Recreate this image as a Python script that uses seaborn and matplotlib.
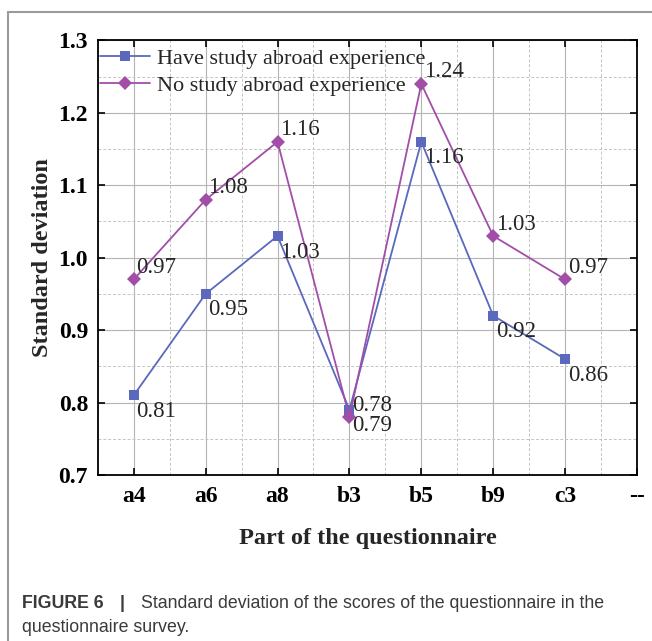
import numpy as np
import pandas as pd
import seaborn as sns
import matplotlib
matplotlib.use("Agg")
import matplotlib.pyplot as plt
from matplotlib.lines import Line2D
from matplotlib.ticker import MultipleLocator, FixedLocator

categories = ["a4", "a6", "a8", "b3", "b5", "b9", "c3"]
tick_labels = ["a4", "a6", "a8", "b3", "b5", "b9", "c3", "--"]
have_abroad = [0.81, 0.95, 1.03, 0.79, 1.16, 0.92, 0.86]
no_abroad = [0.97, 1.08, 1.16, 0.78, 1.24, 1.03, 0.97]
series_names = ["Have study abroad experience", "No study abroad experience"]

sns.set_style("white")
plt.rcParams["font.family"] = ["Liberation Serif", "DejaVu Serif"]

pos = list(range(len(categories)))
df = pd.DataFrame({
    "pos": pos * 2,
    "value": have_abroad + no_abroad,
    "series": [series_names[0]] * len(pos) + [series_names[1]] * len(pos),
})

colors = {series_names[0]: "#5a68bd", series_names[1]: "#a24ea8"}

fig = plt.figure(figsize=(6.52, 6.41), dpi=100)
ax = fig.add_axes([0.150, 0.259, 0.827, 0.678])

sns.lineplot(data=df, x="pos", y="value", hue="series", style="series",
             markers={series_names[0]: "s", series_names[1]: "D"}, dashes=False,
             palette=colors, markersize=7, linewidth=1.3, markeredgewidth=0,
             ax=ax, legend=True)

ax.set_xlim(-0.5, 7)
ax.set_ylim(0.7, 1.3)
ax.xaxis.set_major_locator(FixedLocator(range(len(tick_labels))))
ax.set_xticklabels(tick_labels)
ax.xaxis.set_minor_locator(FixedLocator([i + 0.5 for i in range(-1, 7)]))
ax.yaxis.set_major_locator(MultipleLocator(0.1))
ax.yaxis.set_minor_locator(MultipleLocator(0.05))
ax.yaxis.set_major_formatter(matplotlib.ticker.FormatStrFormatter("%.1f"))

ax.grid(True, which="major", color="#b4b4b4", linestyle="-", linewidth=0.8)
ax.grid(True, which="minor", color="#c4c4c4", linestyle=(0, (3, 2)), linewidth=0.7)
ax.set_axisbelow(True)

ax.tick_params(which="major", direction="in", length=5, width=1.2,
               top=True, right=True, bottom=True, left=True,
               labelsize=17, colors="black")
ax.tick_params(axis="x", which="major", pad=8)
ax.tick_params(axis="y", which="major", pad=7)
ax.tick_params(which="minor", length=0)
for lab in ax.get_xticklabels() + ax.get_yticklabels():
    lab.set_fontweight("bold")
for sp in ax.spines.values():
    sp.set_color("black")
    sp.set_linewidth(1.3)

ax.set_xlabel("Part of the questionnaire", fontsize=17.5, fontweight="bold", labelpad=15)
ax.set_ylabel("Standard deviation", fontsize=17.5, fontweight="bold", labelpad=4)

# data labels
for x, v in zip(pos, have_abroad):
    ax.annotate(f"{v:.2f}", (x, v), xytext=(2, -4), textcoords="offset points",
                ha="left", va="top", fontsize=16.5)
for x, v in zip(pos, no_abroad):
    ax.annotate(f"{v:.2f}", (x, v), xytext=(2, 1), textcoords="offset points",
                ha="left", va="bottom", fontsize=16.5)

leg = ax.legend(loc="upper left", frameon=False, fontsize=16, handlelength=2.25,
                handletextpad=0.3, borderaxespad=0.0, borderpad=0.1,
                labelspacing=0.27, bbox_to_anchor=(0.0, 1.0 - 6 / 435))

# figure frame lines
fig.add_artist(Line2D([8 / 652, 1.0], [1 - 12 / 641, 1 - 12 / 641], color="#9a9a9a", linewidth=1.5))
fig.add_artist(Line2D([8 / 652, 8 / 652], [0.0, 1 - 12 / 641], color="#9a9a9a", linewidth=1.5))

# caption
cap_font = ["Liberation Sans", "DejaVu Sans"]
cap_size = 12.8
cap_color = "#3a3a3a"
y1 = 1 - 603 / 641
fig.text(22 / 652, y1, "FIGURE 6", fontsize=cap_size, fontweight="bold",
         family=cap_font, color=cap_color, va="center", ha="left")
fig.text(122 / 652, y1, "|", fontsize=cap_size, fontweight="bold",
         family=cap_font, color=cap_color, va="center", ha="center")
fig.text(141 / 652, y1,
         "Standard deviation of the scores of the questionnaire in the",
         fontsize=cap_size, family=cap_font, color=cap_color, va="center", ha="left")
fig.text(22 / 652, 1 - 627 / 641, "questionnaire survey.", fontsize=cap_size,
         family=cap_font, color=cap_color, va="center", ha="left")

fig.savefig("out.png", dpi=100)
